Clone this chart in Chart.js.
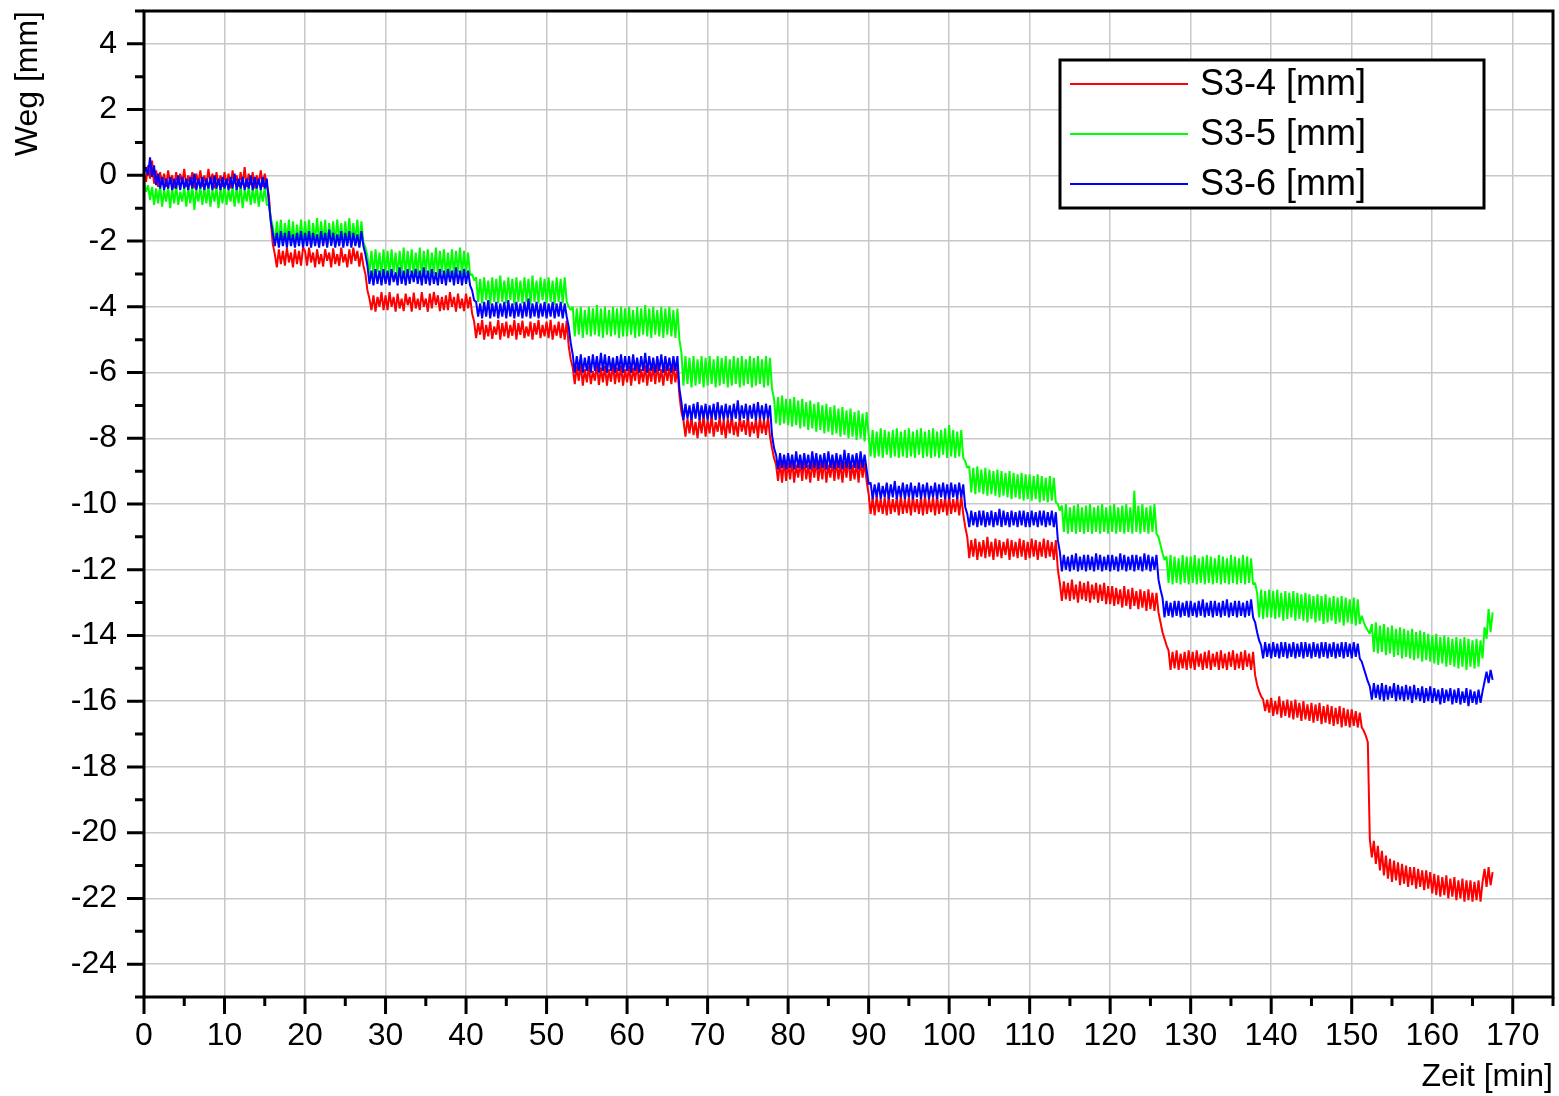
<!DOCTYPE html>
<html>
<head>
<meta charset="utf-8">
<title>Weg / Zeit</title>
<script src="https://cdn.jsdelivr.net/npm/chart.js@4.4.1/dist/chart.umd.min.js"></script>
<style>
    html, body { margin: 0; padding: 0; background: #ffffff; }
    #wrap { width: 1559px; height: 1096px; }
</style>
</head>
<body>
<div id="wrap"><canvas id="wegChart" width="1559" height="1096"></canvas></div>
<script>
// Messwerte, ein Wert je Viertelminute ab t = 0 min
var sampleStep = 0.25;

var seriesNames = ['S3-4 [mm]', 'S3-5 [mm]', 'S3-6 [mm]'];
var seriesColors = ['#ff0000', '#00ff00', '#0000ff'];

var s34 = [
    // 0 - 9.75
    0.1, -0.2, 0.3, -0.1, 0.45, -0.25, 0.15, -0.35, 0.1, -0.3,
    0.05, -0.35, 0.15, -0.25, 0.0, -0.4, 0.1, -0.3, 0.05, -0.25,
    0.2, -0.35, 0.0, -0.3, 0.1, -0.4, 0.05, -0.25, 0.15, -0.35,
    0.0, -0.3, 0.2, -0.25, 0.05, -0.4, 0.1, -0.3, 0.0, -0.35,
    // 10
    0.1, -0.3, 0.05, -0.4, 0.15, -0.25, 0.0, -0.35, 0.1, -0.3,
    0.25, -0.35, 0.05, -0.3, 0.1, -0.4, 0.0, -0.25, 0.15, -0.35,
    0.05, -0.3, -0.6, -1.4, -2.1, -2.4, -2.8, -2.25, -2.7, -2.3,
    -2.75, -2.2, -2.65, -2.35, -2.8, -2.25, -2.7, -2.3, -2.75, -2.2,
    // 20
    -2.3, -2.75, -2.2, -2.65, -2.35, -2.8, -2.25, -2.7, -2.4, -2.78,
    -2.25, -2.6, -2.35, -2.8, -2.22, -2.7, -2.4, -2.75, -2.2, -2.65,
    -2.4, -2.8, -2.25, -2.7, -2.2, -2.6, -2.3, -2.78, -2.35, -2.75,
    -3.0, -3.5, -3.75, -4.1, -3.65, -4.15, -3.7, -4.0, -3.55, -4.1,
    // 30
    -3.65, -4.1, -3.55, -4.0, -3.7, -4.15, -3.6, -4.05, -3.75, -4.13,
    -3.6, -3.95, -3.7, -4.15, -3.57, -4.05, -3.75, -4.1, -3.55, -4.0,
    -3.75, -4.15, -3.6, -4.05, -3.55, -3.95, -3.65, -4.13, -3.7, -4.1,
    -3.65, -4.1, -3.55, -4.0, -3.7, -4.15, -3.6, -4.05, -3.75, -4.13,
    // 40
    -3.6, -4.05, -3.7, -4.2, -4.45, -4.95, -4.5, -4.85, -4.4, -5.0,
    -4.55, -4.9, -4.45, -4.98, -4.6, -4.85, -4.4, -5.0, -4.5, -4.9,
    -4.45, -4.95, -4.55, -4.88, -4.4, -5.0, -4.5, -4.85, -4.42, -4.95,
    -4.6, -4.9, -4.45, -5.0, -4.5, -4.85, -4.4, -4.95, -4.55, -4.9,
    // 50
    -4.45, -4.95, -4.4, -5.0, -4.55, -4.88, -4.45, -4.95, -4.5, -5.0,
    -4.42, -5.2, -5.6, -5.85, -6.35, -5.8, -6.25, -5.75, -6.4, -5.9,
    -6.3, -5.8, -6.35, -5.95, -6.25, -5.75, -6.38, -5.85, -6.3, -5.8,
    -6.4, -5.9, -6.28, -5.75, -6.35, -5.85, -6.3, -5.78, -6.4, -5.9,
    // 60
    -6.3, -5.8, -6.4, -5.85, -6.25, -5.75, -6.35, -5.9, -6.3, -5.78,
    -6.4, -5.85, -6.28, -5.8, -6.35, -5.75, -6.3, -5.9, -6.4, -5.8,
    -6.25, -5.85, -6.35, -5.75, -6.3, -5.85, -6.7, -7.2, -7.45, -7.95,
    -7.4, -7.85, -7.35, -7.9, -7.5, -8.0, -7.4, -7.85, -7.3, -7.95,
    // 70
    -7.45, -7.85, -7.3, -7.95, -7.5, -7.8, -7.35, -7.9, -7.45, -8.0,
    -7.4, -7.85, -7.3, -7.9, -7.5, -7.95, -7.35, -7.8, -7.45, -7.9,
    -7.3, -7.95, -7.5, -7.85, -7.4, -8.0, -7.35, -7.85, -7.45, -7.9,
    -7.35, -7.95, -8.3, -8.6, -8.8, -9.3, -8.7, -9.35, -8.65, -9.3,
    // 80
    -8.75, -9.25, -8.65, -9.35, -8.8, -9.2, -8.7, -9.3, -8.6, -9.25,
    -8.8, -9.35, -8.7, -9.2, -8.65, -9.3, -8.75, -9.25, -8.6, -9.35,
    -8.8, -9.2, -8.7, -9.3, -8.65, -9.25, -8.75, -9.35, -8.7, -9.2,
    -8.6, -9.3, -8.8, -9.25, -8.7, -9.35, -8.65, -9.2, -8.75, -9.3,
    // 90
    -9.7, -10.3, -9.8, -10.35, -9.75, -10.25, -9.85, -10.3, -9.8, -10.35,
    -9.75, -10.3, -9.85, -10.25, -9.8, -10.35, -9.75, -10.3, -9.85, -10.28,
    -9.8, -10.35, -9.75, -10.25, -9.85, -10.3, -9.8, -10.35, -9.75, -10.3,
    -9.85, -10.25, -9.8, -10.35, -9.75, -10.3, -9.85, -10.25, -9.8, -10.35,
    // 100
    -9.75, -10.3, -9.85, -10.25, -9.8, -10.35, -9.75, -10.3, -10.7, -11.0,
    -11.65, -11.1, -11.6, -11.05, -11.7, -11.15, -11.6, -11.1, -11.65, -11.0,
    -11.6, -11.15, -11.7, -11.05, -11.6, -11.1, -11.65, -11.15, -11.55, -11.05,
    -11.7, -11.1, -11.6, -11.15, -11.65, -11.05, -11.6, -11.1, -11.7, -11.15,
    // 110
    -11.65, -11.05, -11.6, -11.1, -11.7, -11.15, -11.6, -11.05, -11.65, -11.1,
    -11.6, -11.15, -11.7, -11.1, -12.0, -12.4, -12.95, -12.35, -12.9, -12.4,
    -12.95, -12.3, -12.9, -12.45, -13.0, -12.35, -12.9, -12.4, -12.95, -12.35,
    -13.0, -12.45, -12.9, -12.4, -13.0, -12.45, -12.95, -12.4, -13.05, -12.5,
    // 120
    -13.05, -12.5, -13.1, -12.55, -13.05, -12.6, -13.15, -12.5, -13.1, -12.6,
    -13.2, -12.55, -13.1, -12.65, -13.2, -12.6, -13.15, -12.65, -13.25, -12.6,
    -13.2, -12.7, -13.25, -12.7, -13.3, -13.6, -13.9, -14.1, -14.3, -14.45,
    -15.05, -14.5, -15.0, -14.45, -15.05, -14.55, -15.0, -14.5, -15.05, -14.45,
    // 130
    -15.0, -14.5, -15.05, -14.45, -14.95, -14.55, -15.05, -14.5, -15.0, -14.45,
    -15.05, -14.55, -14.95, -14.5, -15.05, -14.45, -15.0, -14.55, -15.05, -14.5,
    -14.95, -14.45, -15.05, -14.55, -15.0, -14.5, -15.05, -14.45, -14.95, -14.55,
    -15.05, -14.5, -15.2, -15.5, -15.7, -15.85, -15.95, -16.3, -15.95, -16.35,
    // 140
    -15.9, -16.45, -16.0, -16.4, -15.85, -16.5, -16.0, -16.45, -15.95, -16.5,
    -16.0, -16.55, -15.95, -16.5, -16.05, -16.6, -16.0, -16.55, -16.1, -16.6,
    -16.05, -16.65, -16.1, -16.6, -16.05, -16.7, -16.15, -16.65, -16.1, -16.7,
    -16.15, -16.75, -16.2, -16.7, -16.15, -16.8, -16.2, -16.75, -16.25, -16.8,
    // 150
    -16.25, -16.75, -16.3, -16.8, -16.35, -16.8, -16.9, -17.05, -17.25, -20.2,
    -20.75, -20.25, -20.95, -20.4, -21.15, -20.55, -21.3, -20.7, -21.4, -20.8,
    -21.5, -20.85, -21.45, -20.9, -21.6, -20.95, -21.55, -21.0, -21.65, -21.05,
    -21.6, -21.05, -21.7, -21.1, -21.65, -21.15, -21.75, -21.15, -21.7, -21.2,
    // 160 - 167.5
    -21.85, -21.25, -21.9, -21.3, -21.95, -21.35, -21.9, -21.3, -22.0, -21.4,
    -21.95, -21.35, -22.05, -21.45, -22.0, -21.4, -22.1, -21.45, -22.05, -21.45,
    -22.1, -21.5, -22.05, -21.45, -22.1, -21.5, -21.1, -21.65, -21.05, -21.6,
    -21.2
];

var s35 = [
    // 0
    -0.2, -0.5, -0.3, -0.75, -0.35, -0.9, -0.4, -0.85, -0.3, -0.95,
    -0.45, -0.8, -0.35, -1.0, -0.4, -0.85, -0.3, -0.9, -0.5, -0.8,
    -0.35, -0.95, -0.4, -0.85, -0.3, -1.05, -0.45, -0.8, -0.35, -0.9,
    -0.4, -0.85, -0.3, -0.95, -0.45, -0.8, -0.35, -1.0, -0.4, -0.85,
    // 10
    -0.3, -0.9, -0.45, -0.8, -0.35, -0.95, -0.4, -0.85, -0.3, -1.0,
    -0.45, -0.8, -0.35, -0.9, -0.4, -0.85, -0.3, -0.95, -0.45, -0.8,
    -0.35, -0.9, -0.9, -1.3, -1.55, -2.1, -1.4, -2.05, -1.35, -2.15,
    -1.45, -2.0, -1.35, -2.1, -1.4, -2.15, -1.5, -2.05, -1.35, -2.1,
    // 20
    -1.4, -2.05, -1.35, -2.15, -1.45, -2.0, -1.3, -2.1, -1.4, -2.05,
    -1.35, -2.15, -1.45, -2.05, -1.4, -2.1, -1.35, -2.0, -1.45, -2.15,
    -1.4, -2.05, -1.3, -2.1, -1.45, -2.0, -1.35, -2.15, -1.4, -2.05,
    -2.2, -2.45, -3.0, -2.3, -3.05, -2.25, -2.95, -2.35, -3.05, -2.25,
    // 30
    -3.0, -2.3, -3.05, -2.25, -2.95, -2.35, -3.1, -2.3, -3.0, -2.2,
    -3.05, -2.3, -2.95, -2.25, -3.05, -2.35, -3.0, -2.2, -3.1, -2.3,
    -2.95, -2.25, -3.05, -2.35, -3.0, -2.2, -3.05, -2.3, -2.95, -2.25,
    -3.1, -2.35, -3.0, -2.25, -3.05, -2.3, -2.95, -2.2, -3.05, -2.3,
    // 40
    -3.0, -2.35, -3.05, -3.0, -3.2, -3.1, -3.85, -3.15, -3.9, -3.1,
    -3.8, -3.2, -3.95, -3.1, -3.85, -3.15, -3.9, -3.05, -3.85, -3.2,
    -3.9, -3.1, -3.8, -3.15, -3.95, -3.1, -3.85, -3.2, -3.9, -3.1,
    -3.85, -3.15, -3.95, -3.05, -3.85, -3.2, -3.9, -3.1, -3.8, -3.15,
    // 50
    -3.9, -3.1, -3.85, -3.2, -3.95, -3.1, -3.85, -3.15, -3.9, -3.1,
    -3.85, -4.0, -4.1, -4.0, -4.9, -4.05, -4.85, -4.0, -4.95, -4.1,
    -4.85, -4.0, -4.9, -4.05, -4.85, -3.95, -4.9, -4.05, -4.95, -4.0,
    -4.85, -4.1, -4.9, -4.0, -4.85, -4.05, -4.95, -4.0, -4.9, -4.05,
    // 60
    -4.9, -4.0, -4.85, -4.1, -4.95, -4.0, -4.9, -4.05, -4.85, -3.95,
    -4.9, -4.05, -4.95, -4.0, -4.85, -4.1, -4.9, -4.0, -4.95, -4.05,
    -4.85, -4.0, -4.9, -4.1, -4.95, -4.05, -5.0, -5.4, -6.4, -5.5,
    -6.35, -5.55, -6.45, -5.5, -6.4, -5.6, -6.35, -5.5, -6.45, -5.55,
    // 70
    -6.4, -5.5, -6.35, -5.6, -6.45, -5.5, -6.4, -5.55, -6.35, -5.5,
    -6.45, -5.6, -6.4, -5.5, -6.35, -5.55, -6.45, -5.5, -6.4, -5.6,
    -6.35, -5.5, -6.45, -5.55, -6.4, -5.5, -6.35, -5.6, -6.45, -5.5,
    -6.4, -5.55, -6.5, -6.8, -7.55, -6.75, -7.6, -6.7, -7.55, -6.8,
    // 80
    -7.6, -6.8, -7.65, -6.75, -7.6, -6.85, -7.7, -6.8, -7.65, -6.9,
    -7.75, -6.85, -7.7, -6.95, -7.8, -6.9, -7.75, -7.0, -7.85, -6.95,
    -7.8, -7.05, -7.9, -7.0, -7.85, -7.1, -7.95, -7.05, -7.9, -7.15,
    -8.0, -7.1, -7.95, -7.2, -8.05, -7.15, -8.0, -7.25, -8.1, -7.2,
    // 90
    -7.9, -8.55, -7.75, -8.6, -7.8, -8.55, -7.7, -8.6, -7.75, -8.5,
    -7.8, -8.6, -7.75, -8.55, -7.7, -8.6, -7.8, -8.55, -7.75, -8.6,
    -7.7, -8.55, -7.8, -8.6, -7.75, -8.5, -7.7, -8.6, -7.8, -8.55,
    -7.75, -8.6, -7.7, -8.55, -7.8, -8.6, -7.75, -8.5, -7.7, -8.6,
    // 100
    -7.6, -8.55, -7.75, -8.6, -7.8, -8.55, -7.75, -8.6, -8.7, -8.9,
    -8.85, -9.65, -8.9, -9.7, -8.85, -9.65, -8.95, -9.7, -8.9, -9.75,
    -8.95, -9.7, -9.0, -9.75, -8.95, -9.8, -9.0, -9.75, -9.05, -9.8,
    -9.0, -9.85, -9.05, -9.8, -9.1, -9.85, -9.05, -9.9, -9.1, -9.85,
    // 110
    -9.1, -9.9, -9.15, -9.85, -9.1, -9.95, -9.15, -9.9, -9.2, -9.95,
    -9.15, -9.9, -9.2, -9.95, -10.0, -10.2, -10.05, -10.85, -10.0, -10.9,
    -10.1, -10.85, -10.05, -10.9, -10.0, -10.85, -10.1, -10.9, -10.05, -10.85,
    -10.0, -10.9, -10.1, -10.85, -10.05, -10.9, -10.0, -10.85, -10.1, -10.9,
    // 120
    -10.05, -10.85, -10.0, -10.9, -10.1, -10.85, -10.05, -10.9, -10.0, -10.85,
    -10.1, -10.9, -9.6, -10.85, -10.05, -10.9, -10.0, -10.85, -10.1, -10.9,
    -10.05, -10.85, -10.0, -10.9, -11.0, -11.25, -11.5, -11.7, -11.6, -12.4,
    -11.55, -12.45, -11.6, -12.4, -11.65, -12.45, -11.55, -12.4, -11.6, -12.45,
    // 130
    -11.6, -12.4, -11.55, -12.45, -11.65, -12.4, -11.6, -12.45, -11.55, -12.4,
    -11.6, -12.45, -11.65, -12.4, -11.55, -12.45, -11.6, -12.4, -11.65, -12.45,
    -11.55, -12.4, -11.6, -12.45, -11.65, -12.4, -11.55, -12.45, -11.6, -12.4,
    -11.65, -12.45, -12.4, -12.7, -13.45, -12.6, -13.5, -12.65, -13.45, -12.6,
    // 140
    -13.45, -12.65, -13.5, -12.6, -13.45, -12.7, -13.55, -12.65, -13.5, -12.7,
    -13.45, -12.65, -13.55, -12.7, -13.5, -12.75, -13.55, -12.7, -13.6, -12.75,
    -13.5, -12.8, -13.6, -12.75, -13.55, -12.8, -13.65, -12.75, -13.6, -12.85,
    -13.55, -12.8, -13.65, -12.85, -13.6, -12.8, -13.7, -12.85, -13.6, -12.9,
    // 150
    -13.65, -12.85, -13.7, -12.9, -13.65, -13.4, -13.6, -13.75, -13.85, -13.95,
    -13.65, -14.5, -13.6, -14.55, -13.7, -14.5, -13.65, -14.6, -13.75, -14.55,
    -13.7, -14.65, -13.8, -14.6, -13.75, -14.7, -13.8, -14.65, -13.85, -14.7,
    -13.8, -14.75, -13.9, -14.7, -13.85, -14.8, -13.9, -14.75, -13.95, -14.8,
    // 160 - 167.5
    -14.0, -14.85, -13.95, -14.9, -14.05, -14.85, -14.0, -14.95, -14.05, -14.9,
    -14.1, -14.95, -14.05, -15.0, -14.1, -14.95, -14.05, -15.05, -14.1, -14.95,
    -14.15, -15.0, -14.1, -14.95, -14.15, -14.7, -13.75, -14.1, -13.2, -13.9,
    -13.3
];

var s36 = [
    // 0
    0.05, 0.25, 0.0, 0.55, -0.05, 0.3, -0.3, 0.05, -0.4, -0.05,
    -0.45, -0.1, -0.4, -0.05, -0.45, -0.1, -0.4, 0.0, -0.45, -0.05,
    -0.4, -0.1, -0.45, -0.05, -0.4, 0.05, -0.45, -0.1, -0.4, -0.05,
    -0.45, -0.1, -0.4, -0.05, -0.45, 0.0, -0.4, -0.1, -0.45, -0.05,
    // 10
    -0.4, -0.1, -0.45, -0.05, -0.4, 0.05, -0.45, -0.1, -0.4, -0.05,
    -0.45, -0.1, -0.4, 0.0, -0.45, -0.05, -0.4, -0.1, -0.45, -0.05,
    -0.4, -0.1, -0.8, -1.4, -1.75, -2.15, -1.75, -2.2, -1.7, -2.15,
    -1.75, -2.2, -1.7, -2.15, -1.8, -2.2, -1.75, -2.15, -1.7, -2.2,
    // 20
    -1.75, -2.15, -1.7, -2.2, -1.75, -2.15, -1.8, -2.2, -1.7, -2.15,
    -1.75, -2.2, -1.65, -2.15, -1.75, -2.2, -1.8, -2.15, -1.7, -2.2,
    -1.75, -2.15, -1.7, -2.2, -1.75, -2.15, -1.8, -2.2, -1.7, -2.15,
    -2.4, -2.75, -3.3, -2.9, -3.35, -2.85, -3.3, -2.9, -3.35, -2.85,
    // 30
    -3.3, -2.9, -3.35, -2.85, -3.25, -2.95, -3.35, -2.8, -3.3, -2.9,
    -3.35, -2.85, -3.3, -2.9, -3.25, -2.85, -3.3, -2.9, -3.35, -2.8,
    -3.3, -2.9, -3.35, -2.85, -3.3, -2.95, -3.35, -2.85, -3.3, -2.9,
    -3.35, -2.85, -3.25, -2.9, -3.35, -2.8, -3.3, -2.9, -3.35, -2.85,
    // 40
    -3.3, -2.9, -3.35, -3.5, -3.8, -3.85, -4.3, -3.9, -4.35, -3.85,
    -4.3, -3.8, -4.35, -3.9, -4.3, -3.85, -4.35, -3.9, -4.3, -3.85,
    -4.35, -3.8, -4.3, -3.9, -4.35, -3.85, -4.3, -3.9, -4.35, -3.85,
    -4.3, -3.75, -4.35, -3.9, -4.3, -3.85, -4.35, -3.9, -4.3, -3.85,
    // 50
    -4.35, -3.9, -4.3, -3.85, -4.35, -3.9, -4.3, -3.85, -4.35, -3.9,
    -4.3, -4.6, -5.1, -5.45, -6.0, -5.5, -5.95, -5.45, -6.0, -5.55,
    -5.95, -5.5, -6.0, -5.45, -5.95, -5.5, -6.0, -5.4, -5.95, -5.45,
    -6.0, -5.5, -5.95, -5.55, -6.0, -5.5, -5.95, -5.45, -6.0, -5.5,
    // 60
    -5.95, -5.5, -6.0, -5.45, -5.95, -5.55, -6.0, -5.5, -5.95, -5.4,
    -6.0, -5.5, -5.95, -5.55, -6.0, -5.5, -5.95, -5.45, -6.0, -5.5,
    -5.95, -5.55, -6.0, -5.5, -5.95, -5.5, -6.5, -6.9, -7.45, -6.95,
    -7.4, -7.0, -7.45, -6.95, -7.4, -6.9, -7.45, -7.0, -7.4, -6.95,
    // 70
    -7.45, -7.0, -7.4, -6.95, -7.45, -6.9, -7.4, -7.0, -7.45, -6.95,
    -7.4, -7.0, -7.45, -6.95, -7.4, -6.85, -7.45, -7.0, -7.4, -6.95,
    -7.45, -7.0, -7.4, -6.95, -7.45, -6.9, -7.4, -7.0, -7.45, -6.95,
    -7.4, -7.0, -7.9, -8.3, -8.5, -8.95, -8.45, -8.9, -8.5, -8.95,
    // 80
    -8.45, -8.9, -8.5, -8.95, -8.4, -8.9, -8.5, -8.95, -8.45, -8.9,
    -8.5, -8.95, -8.4, -8.9, -8.45, -8.95, -8.5, -8.9, -8.45, -8.95,
    -8.4, -8.9, -8.5, -8.95, -8.45, -8.9, -8.5, -8.95, -8.35, -8.9,
    -8.45, -8.95, -8.5, -8.9, -8.45, -8.95, -8.4, -8.9, -8.5, -8.95,
    // 90
    -9.4, -9.35, -9.85, -9.4, -9.8, -9.35, -9.85, -9.45, -9.8, -9.35,
    -9.85, -9.4, -9.8, -9.3, -9.85, -9.45, -9.8, -9.35, -9.85, -9.4,
    -9.8, -9.35, -9.85, -9.45, -9.8, -9.35, -9.85, -9.4, -9.8, -9.35,
    -9.85, -9.45, -9.8, -9.35, -9.85, -9.4, -9.8, -9.35, -9.85, -9.4,
    // 100
    -9.85, -9.35, -9.8, -9.4, -9.85, -9.35, -9.8, -9.4, -10.1, -10.3,
    -10.7, -10.2, -10.65, -10.25, -10.7, -10.2, -10.65, -10.2, -10.7, -10.25,
    -10.65, -10.2, -10.7, -10.25, -10.65, -10.15, -10.7, -10.2, -10.65, -10.25,
    -10.7, -10.2, -10.65, -10.25, -10.7, -10.2, -10.65, -10.2, -10.7, -10.25,
    // 110
    -10.7, -10.2, -10.65, -10.25, -10.7, -10.2, -10.65, -10.2, -10.7, -10.25,
    -10.65, -10.2, -10.7, -10.25, -11.1, -11.45, -12.05, -11.55, -12.0, -11.6,
    -12.05, -11.55, -12.0, -11.5, -12.05, -11.6, -12.0, -11.55, -12.05, -11.55,
    -12.0, -11.6, -12.05, -11.5, -12.0, -11.55, -12.05, -11.6, -12.0, -11.55,
    // 120
    -12.05, -11.55, -12.0, -11.6, -12.05, -11.5, -12.0, -11.55, -12.05, -11.6,
    -12.0, -11.55, -12.05, -11.55, -12.0, -11.6, -12.05, -11.5, -12.0, -11.55,
    -12.05, -11.6, -12.0, -11.55, -12.3, -12.6, -12.85, -13.45, -12.95, -13.4,
    -13.0, -13.45, -12.95, -13.4, -12.95, -13.45, -13.0, -13.4, -12.95, -13.45,
    // 130
    -12.95, -13.4, -13.0, -13.45, -12.95, -13.4, -12.9, -13.45, -13.0, -13.4,
    -12.95, -13.45, -12.95, -13.4, -13.0, -13.45, -12.95, -13.4, -12.9, -13.45,
    -13.0, -13.4, -12.95, -13.45, -12.95, -13.4, -13.0, -13.45, -12.95, -13.4,
    -12.9, -13.45, -13.6, -13.9, -14.15, -14.3, -14.7, -14.2, -14.65, -14.25,
    // 140
    -14.7, -14.2, -14.65, -14.25, -14.7, -14.2, -14.65, -14.2, -14.7, -14.25,
    -14.65, -14.2, -14.7, -14.25, -14.65, -14.2, -14.7, -14.2, -14.65, -14.25,
    -14.7, -14.2, -14.65, -14.25, -14.7, -14.2, -14.65, -14.2, -14.7, -14.25,
    -14.65, -14.2, -14.7, -14.25, -14.65, -14.2, -14.7, -14.2, -14.65, -14.25,
    // 150
    -14.7, -14.2, -14.65, -14.25, -14.7, -14.8, -15.0, -15.2, -15.4, -15.55,
    -15.95, -15.45, -15.9, -15.5, -15.95, -15.45, -16.0, -15.5, -15.95, -15.55,
    -15.9, -15.45, -16.0, -15.5, -15.95, -15.55, -16.0, -15.5, -15.95, -15.55,
    -16.05, -15.5, -15.95, -15.6, -16.0, -15.55, -16.05, -15.6, -16.0, -15.55,
    // 160 - 167.5
    -16.05, -15.6, -16.0, -15.65, -16.1, -15.6, -16.05, -15.65, -16.0, -15.6,
    -16.1, -15.65, -16.05, -15.6, -16.1, -15.7, -16.05, -15.6, -16.15, -15.65,
    -16.05, -15.7, -16.1, -15.65, -16.05, -15.7, -15.4, -15.1, -15.45, -15.05,
    -15.35
];

var xTicks = [0, 10, 20, 30, 40, 50, 60, 70, 80, 90, 100, 110, 120, 130, 140, 150, 160, 170];
var yTicks = [-24, -22, -20, -18, -16, -14, -12, -10, -8, -6, -4, -2, 0, 2, 4];
var xRange = [0, 175];
var yRange = [-25, 5];

function toPoints(values) {
    return values.map(function (v, i) {
        return { x: i * sampleStep, y: v };
    });
}

var FONT = '"Liberation Sans", Arial, sans-serif';

// Rahmen, Haupt- und Nebenstriche, Legende mit Kasten
var frameAndLegend = {
    id: 'frameAndLegend',
    afterDraw: function (chart) {
        var ctx = chart.ctx;
        var a = chart.chartArea;
        var xs = chart.scales.x;
        var ys = chart.scales.y;
        var v, p, len;

        ctx.save();
        ctx.strokeStyle = '#000000';
        ctx.lineWidth = 3;
        ctx.strokeRect(a.left, a.top, a.right - a.left, a.bottom - a.top);

        ctx.beginPath();
        for (v = xRange[0]; v <= xRange[1]; v += 5) {
            p = xs.getPixelForValue(v);
            len = (v % 10 === 0) ? 17 : 9;
            ctx.moveTo(p, a.bottom);
            ctx.lineTo(p, a.bottom + len);
        }
        for (v = yRange[0]; v <= yRange[1]; v += 1) {
            p = ys.getPixelForValue(v);
            len = (v % 2 === 0) ? 17 : 9;
            ctx.moveTo(a.left, p);
            ctx.lineTo(a.left - len, p);
        }
        ctx.stroke();

        // Legende
        var bx = a.right - 493, by = a.top + 49, bw = 424, bh = 148;
        ctx.fillStyle = '#ffffff';
        ctx.fillRect(bx, by, bw, bh);
        ctx.lineWidth = 3;
        ctx.strokeRect(bx, by, bw, bh);
        ctx.font = '36px ' + FONT;
        ctx.textBaseline = 'middle';
        ctx.textAlign = 'left';
        chart.data.datasets.forEach(function (ds, i) {
            var ly = by + 24 + i * 50;
            ctx.strokeStyle = ds.borderColor;
            ctx.lineWidth = 2;
            ctx.beginPath();
            ctx.moveTo(bx + 10, ly);
            ctx.lineTo(bx + 128, ly);
            ctx.stroke();
            ctx.fillStyle = '#000000';
            ctx.fillText(ds.label, bx + 140, ly + 1);
        });
        ctx.restore();
    }
};

var ctx = document.getElementById('wegChart');

var myChart = new Chart(ctx.getContext('2d'), {
    type: 'line',
    data: {
        datasets: [s34, s35, s36].map(function (values, i) {
            return {
                label: seriesNames[i],
                data: toPoints(values),
                borderColor: seriesColors[i],
                backgroundColor: seriesColors[i],
                borderWidth: 2,
                borderJoinStyle: 'bevel',
                pointRadius: 0,
                tension: 0,
                fill: false,
                order: 3 - i
            };
        })
    },
    options: {
        responsive: false,
        animation: false,
        events: [],
        layout: { padding: { top: 11, right: 6, left: 0, bottom: 0 } },
        plugins: {
            legend: { display: false },
            tooltip: { enabled: false }
        },
        scales: {
            x: {
                type: 'linear',
                min: xRange[0],
                max: xRange[1],
                afterFit: function (scale) {
                    scale.height = 99;
                    scale.paddingLeft = 0;
                    scale.paddingRight = 0;
                },
                afterBuildTicks: function (scale) {
                    scale.ticks = xTicks.map(function (v) { return { value: v }; });
                },
                grid: { color: '#c8c8c8', lineWidth: 1.5, drawTicks: false },
                border: { display: false },
                ticks: {
                    padding: 20,
                    color: '#000000',
                    font: { family: FONT, size: 32 },
                    maxRotation: 0,
                    callback: function (value) { return String(value); }
                },
                title: {
                    display: true,
                    text: 'Zeit [min]',
                    align: 'end',
                    color: '#000000',
                    font: { family: FONT, size: 32 },
                    padding: { top: 0, bottom: 0 }
                }
            },
            y: {
                type: 'linear',
                min: yRange[0],
                max: yRange[1],
                afterFit: function (scale) {
                    scale.width = 144;
                    scale.paddingTop = 0;
                    scale.paddingBottom = 0;
                },
                afterBuildTicks: function (scale) {
                    scale.ticks = yTicks.map(function (v) { return { value: v }; });
                },
                grid: { color: '#c8c8c8', lineWidth: 1.5, drawTicks: false },
                border: { display: false },
                ticks: {
                    padding: 27,
                    color: '#000000',
                    font: { family: FONT, size: 32 },
                    callback: function (value) { return String(value); }
                },
                title: {
                    display: true,
                    text: 'Weg [mm]',
                    align: 'end',
                    color: '#000000',
                    font: { family: FONT, size: 32 },
                    padding: { top: 9, bottom: 0 }
                }
            }
        }
    },
    plugins: [frameAndLegend]
});
</script>
</body>
</html>
